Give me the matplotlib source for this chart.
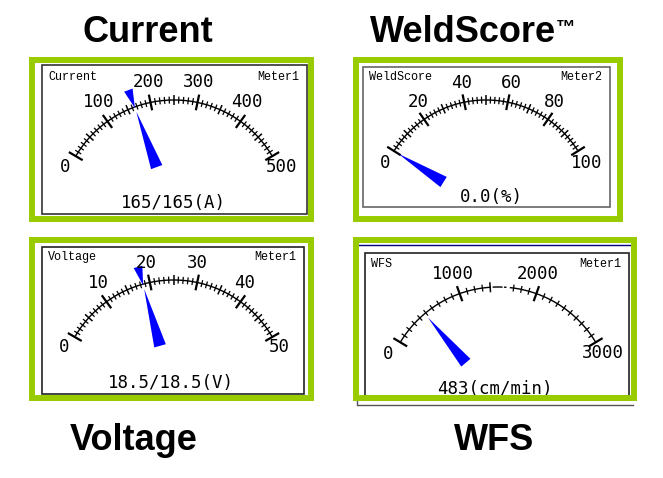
import numpy as np
from matplotlib import pyplot as plt
from matplotlib.patches import Polygon, Rectangle

GREEN = '#99CC00'
BLUE = '#0000FF'
MONO = 'DejaVu Sans Mono'
CORNER = 'Liberation Mono'

# values
current_ticks = [0, 100, 200, 300, 400, 500]
current_value = 165
weld_ticks = [0, 20, 40, 60, 80, 100]
weld_value = 0.0
voltage_ticks = [0, 10, 20, 30, 40, 50]
voltage_value = 18.5
wfs_ticks = [0, 1000, 2000, 3000]
wfs_value = 483
wfs_gap = (1400, 1660)
wfs_dashes = [(1440, 1550), (1585, 1600)]

# label positions in image pixels
current_label_xy = [(65, 167), (99, 102), (148, 82), (199, 82), (247, 102), (282, 167)]
weld_label_xy = [(385, 163), (418, 102), (462, 83), (511, 83), (554, 102), (587, 163)]
voltage_label_xy = [(64, 347), (98, 283), (146, 263), (197, 263), (245, 283), (279, 347)]
wfs_label_xy = [(388, 354), (453, 274), (538, 274), (603, 353)]


def polar(cx, cy, r, angle):
    return cx + r * np.sin(angle), cy - r * np.cos(angle)


def draw_pointer(ax, cx, cy, angle, r_tip, r_base, width, zorder=4):
    """
    Draws a blue wedge with its tip at r_tip and flat end at r_base.
    """
    tip = polar(cx, cy, r_tip, angle)
    bx, by = polar(cx, cy, r_base, angle)
    dx, dy = np.cos(angle) * width / 2, np.sin(angle) * width / 2
    ax.add_patch(Polygon([tip, (bx - dx, by - dy), (bx + dx, by + dy)], closed=True,
                         facecolor=BLUE, edgecolor='none', zorder=zorder))


def draw_gauge(ax, center, radius, half_angle, ticks, labels_xy, value,
               setpoint=None, gap=None, dashes=(), mid_ticks=True):
    """
    Draws the arc scale, tick marks, tick labels and needle of one meter.
    """
    cx, cy = center
    half = np.radians(half_angle)
    low, high = ticks[0], ticks[-1]
    to_angle = lambda v: -half + 2 * half * (v - low) / (high - low)

    # arc, optionally with the broken part of the scale
    if gap:
        spans = [(low, gap[0]), (gap[1], high)] + list(dashes)
    else:
        spans = [(low, high)]
    for start, stop in spans:
        angles = np.linspace(to_angle(start), to_angle(stop), 120)
        x, y = polar(cx, cy, radius, angles)
        ax.plot(x, y, color='black', lw=1.0, zorder=3)

    step = (ticks[1] - ticks[0]) / 10
    count = int(round((high - low) / step))
    for i in range(count + 1):
        v = low + i * step
        if gap and gap[0] < v < gap[1]:
            continue
        if i % 10 == 0:
            length, lw = 8, 1.6
        elif (mid_ticks and i % 5 == 0) or (gap and v == gap[0]):
            length, lw = 5, 1.1
        else:
            length, lw = 3.5, 0.9
        a = to_angle(v)
        x0, y0 = polar(cx, cy, radius - length, a)
        x1, y1 = polar(cx, cy, radius + length, a)
        ax.plot([x0, x1], [y0, y1], color='black', lw=lw, solid_capstyle='butt', zorder=3)

    for tick, (x, y) in zip(ticks, labels_xy):
        ax.text(x, y, str(tick), family=MONO, fontsize=12.5, color='black',
                ha='center', va='center', zorder=5)

    angle = to_angle(value)
    draw_pointer(ax, cx, cy, angle, radius - 5, 50, 12)
    if setpoint is not None:
        draw_pointer(ax, cx, cy, to_angle(setpoint), radius - 1, radius + 18, 9)


def draw_panel(ax, outer, box, box_color, left_text, right_text, text_y, readout, readout_xy):
    """
    Draws the green frame, the inner meter box and its fixed texts.
    """
    x0, y0, x1, y1 = box
    ax.add_patch(Rectangle((x0, y0), x1 - x0, y1 - y0, facecolor='white',
                           edgecolor=box_color, lw=1.2, zorder=1))
    ax.text(x0 + 6, text_y, left_text, family=CORNER, fontsize=8.5, ha='left', va='center', zorder=5)
    ax.text(x1 - 8, text_y, right_text, family=CORNER, fontsize=8.5, ha='right', va='center', zorder=5)
    ax.text(readout_xy[0], readout_xy[1], readout, family=MONO, fontsize=12.5,
            ha='center', va='center', zorder=5)
    x0, y0, x1, y1 = outer
    ax.add_patch(Rectangle((x0 + 3, y0 + 3), x1 - x0 - 6, y1 - y0 - 6, facecolor='none',
                           edgecolor=GREEN, lw=4.3, joinstyle='miter', zorder=6))


figure = plt.figure(figsize=(6.63, 4.78), dpi=100)
axes1 = figure.add_axes([0, 0, 1, 1])
axes1.set_xlim(0, 663)
axes1.set_ylim(478, 0)
axes1.axis('off')

# current
draw_panel(axes1, (29, 57, 314, 222), (42, 65, 307, 214), '#333333',
           'Current', 'Meter1', 77, '165/165(A)', (173, 203))
draw_gauge(axes1, (174, 214), 114, 59.5, current_ticks, current_label_xy,
           current_value, setpoint=current_value)

# weldscore
draw_panel(axes1, (353, 57, 623, 222), (363, 67, 610, 207), '#666666',
           'WeldScore', 'Meter2', 77, '0.0(%)', (491, 197))
draw_gauge(axes1, (486, 208.5), 108.5, 58, weld_ticks, weld_label_xy, weld_value)

# voltage
draw_panel(axes1, (29, 237, 314, 401), (42, 247, 304, 394), '#222222',
           'Voltage', 'Meter1', 257, '18.5/18.5(V)', (171, 383))
draw_gauge(axes1, (173.5, 394), 114, 60, voltage_ticks, voltage_label_xy,
           voltage_value, setpoint=voltage_value)

# wfs, its box is cut off by the green frame
draw_panel(axes1, (353, 237, 637, 401), (365, 253, 629, 400), '#222222',
           'WFS', 'Meter1', 264, '483(cm/min)', (495, 389))
draw_gauge(axes1, (498, 401), 114, 59, wfs_ticks, wfs_label_xy, wfs_value,
           gap=wfs_gap, dashes=wfs_dashes, mid_ticks=False)
axes1.plot([359, 631], [245, 245], color='#000080', lw=1, zorder=2)
axes1.plot([357, 357], [401, 405], color='#555555', lw=1, zorder=2)
axes1.plot([358, 633], [405, 405], color='#555555', lw=1, zorder=2)

# titles
for text, x, y in [('Current', 148, 42), ('Voltage', 134, 450), ('WFS', 494, 450)]:
    axes1.text(x, y, text, family='Liberation Sans', weight='bold', fontsize=26,
               color='black', ha='center', va='baseline')
axes1.text(370, 42, 'WeldScore', family='Liberation Sans', weight='bold', fontsize=26,
           color='black', ha='left', va='baseline')
axes1.text(556, 32, '\u2122', family='Liberation Sans', weight='bold', fontsize=14,
           color='black', ha='left', va='baseline')

figure.savefig('out.png', dpi=100)
plt.close()
